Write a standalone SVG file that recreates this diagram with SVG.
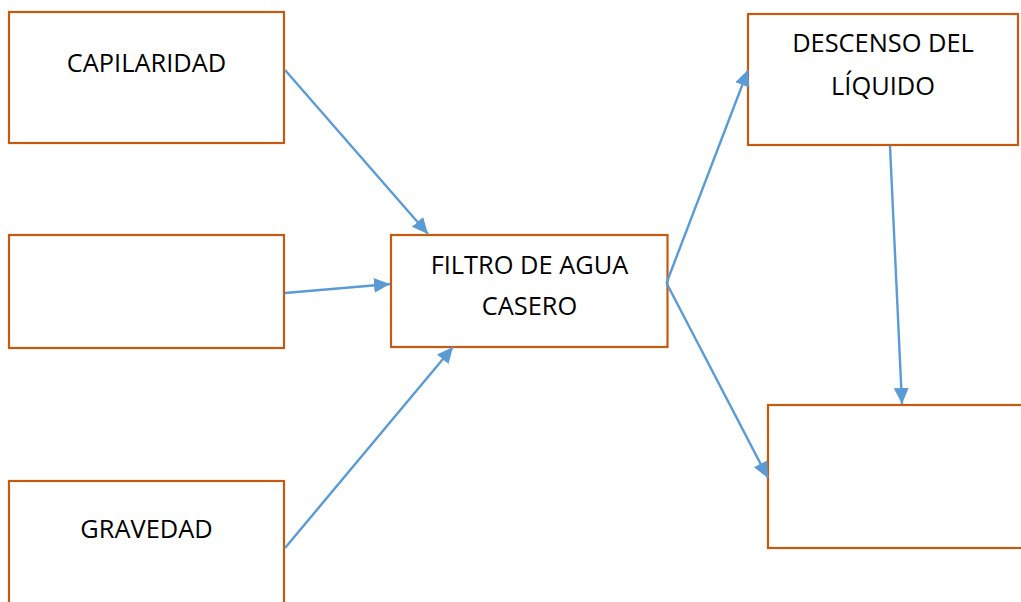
<svg xmlns="http://www.w3.org/2000/svg" width="1021" height="602" viewBox="0 0 1021 602">
  <style>
    .box { fill: #ffffff; stroke: #C55A11; stroke-width: 2.2; }
    .label { font-family: "Open Sans", "Liberation Sans", sans-serif; font-size: 25.4px; fill: #000000; text-anchor: middle; }
    .link { fill: none; stroke: #5B9BD5; stroke-width: 2.4; marker-end: url(#head); }
  </style>
  <defs>
    <marker id="head" markerUnits="userSpaceOnUse" markerWidth="18" markerHeight="16" refX="16" refY="7.5" orient="auto">
      <path d="M0,0 L16,7.5 L0,15 Z" fill="#5B9BD5"/>
    </marker>
  </defs>
  <rect width="1021" height="602" fill="#ffffff"/>

  <g id="capilaridad">
    <rect class="box" x="9" y="12" width="275" height="131"/>
    <text class="label" x="146.5" y="71.5">CAPILARIDAD</text>
  </g>

  <g id="entrada-vacia">
    <rect class="box" x="9" y="235" width="275" height="113"/>
  </g>

  <g id="gravedad">
    <rect class="box" x="9" y="481" width="275" height="140"/>
    <text class="label" x="146.5" y="537.5">GRAVEDAD</text>
  </g>

  <g id="filtro">
    <rect class="box" x="391" y="235" width="276.5" height="112"/>
    <text class="label" x="529.5" y="274">FILTRO DE AGUA</text>
    <text class="label" x="529.5" y="315">CASERO</text>
  </g>

  <g id="descenso">
    <rect class="box" x="748" y="14" width="270" height="131"/>
    <text class="label" x="883" y="52">DESCENSO DEL</text>
    <text class="label" x="883" y="95">LÍQUIDO</text>
  </g>

  <g id="salida-vacia">
    <rect class="box" x="768" y="405" width="270" height="143"/>
  </g>

  <g id="connectors">
    <line class="link" x1="285" y1="70" x2="428" y2="234"/>
    <line class="link" x1="285" y1="293" x2="390" y2="284"/>
    <line class="link" x1="285" y1="548" x2="453" y2="347"/>
    <line class="link" x1="666.5" y1="283" x2="748" y2="70"/>
    <line class="link" x1="666.5" y1="283" x2="768" y2="478"/>
    <line class="link" x1="890" y1="146" x2="902" y2="404"/>
  </g>
</svg>
